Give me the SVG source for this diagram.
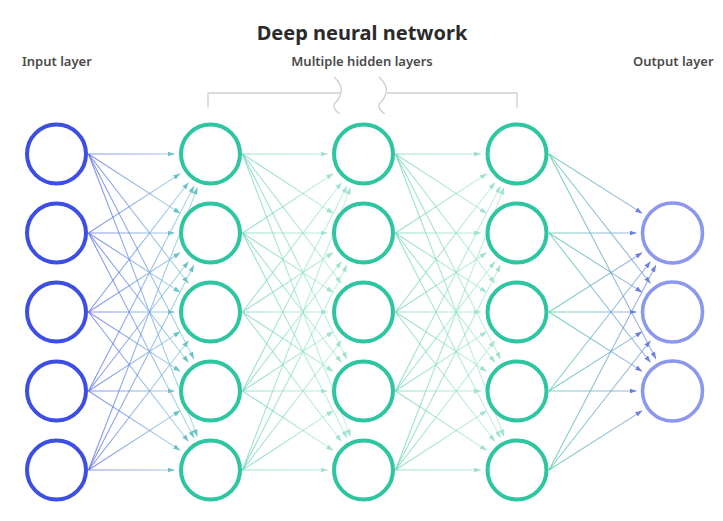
<svg xmlns="http://www.w3.org/2000/svg" width="723" height="521" viewBox="0 0 723 521">
<style>
.t{font-family:"Noto Sans","Open Sans","Liberation Sans",sans-serif;fill:#2b2b2b}
.title{font-size:20px;font-weight:700;text-anchor:middle}
.lab{font-size:13px;font-weight:600;fill:#4a4a4a}
.br{fill:none;stroke:#cfcfcf;stroke-width:1.3}
.n{fill:#fff;stroke-width:4}
.in{stroke:#3c4fe2}
.hid{stroke:#2ec6a0}
.out{stroke:#8a98ee;stroke-width:3.6}
.g1 path{stroke:url(#gr1);marker-end:url(#a1)}
.g2 path{stroke:url(#gr2);marker-end:url(#a2)}
.g3 path{stroke:url(#gr3);marker-end:url(#a2)}
.g4 path{stroke:url(#gr4);marker-end:url(#a4)}
.e path{fill:none;stroke-width:1.1;stroke-opacity:0.72}
</style>
<defs>
<linearGradient id="gr1" gradientUnits="userSpaceOnUse" x1="88" y1="0" x2="198" y2="0"><stop offset="0" stop-color="#5566e4"/><stop offset="1" stop-color="#8ad6d2"/></linearGradient>
<linearGradient id="gr2" gradientUnits="userSpaceOnUse" x1="242" y1="0" x2="351" y2="0"><stop offset="0" stop-color="#6cd3b9"/><stop offset="1" stop-color="#b2ebdd"/></linearGradient>
<linearGradient id="gr3" gradientUnits="userSpaceOnUse" x1="395" y1="0" x2="505" y2="0"><stop offset="0" stop-color="#6cd3b9"/><stop offset="1" stop-color="#b2ebdd"/></linearGradient>
<linearGradient id="gr4" gradientUnits="userSpaceOnUse" x1="549" y1="0" x2="660" y2="0"><stop offset="0" stop-color="#4cc6a8"/><stop offset="1" stop-color="#7888e4"/></linearGradient>
<marker id="a1" markerUnits="userSpaceOnUse" markerWidth="7" markerHeight="5" refX="7" refY="2.5" orient="auto"><path d="M0,0L7,2.5L0,5z" fill="#6cc2c8"/></marker>
<marker id="a2" markerUnits="userSpaceOnUse" markerWidth="7" markerHeight="5" refX="7" refY="2.5" orient="auto"><path d="M0,0L7,2.5L0,5z" fill="#9fe2d2"/></marker>
<marker id="a4" markerUnits="userSpaceOnUse" markerWidth="7" markerHeight="5" refX="7" refY="2.5" orient="auto"><path d="M0,0L7,2.5L0,5z" fill="#6e7ee2"/></marker>
</defs>
<rect width="723" height="521" fill="#fff"/>
<g id="labels">
<text class="t title" x="362" y="40">Deep neural network</text>
<text class="t lab" x="22" y="66">Input layer</text>
<text class="t lab" x="362" y="66" text-anchor="middle">Multiple hidden layers</text>
<text class="t lab" x="633" y="66">Output layer</text>
</g>
<g id="bracket">
<path class="br" d="M208 108V93H340"/>
<path class="br" d="M334 77Q343 85 341 93Q339 100 334 104Q333 110 340 114"/>
<path class="br" d="M379 77Q388 85 386 93Q384 100 379 104Q378 110 385 114"/>
<path class="br" d="M387 93H517V108"/>
</g>
<g id="connectors" class="e">
<g class="g1">
<path d="M88.5 154L174.5 154"/><path d="M88.5 154L180.3 213.4"/><path d="M88.5 154L188.5 283.5"/><path d="M88.5 154L194 359"/><path d="M88.5 154L197.5 436.4"/>
<path d="M88.5 233L180.3 173.6"/><path d="M88.5 233L174.5 233"/><path d="M88.5 233L180.3 292.4"/><path d="M88.5 233L188.5 362.5"/><path d="M88.5 233L194 438"/>
<path d="M88.5 312L188.5 182.5"/><path d="M88.5 312L180.3 252.6"/><path d="M88.5 312L174.5 312"/><path d="M88.5 312L180.3 371.4"/><path d="M88.5 312L188.5 441.5"/>
<path d="M88.5 391L194 186"/><path d="M88.5 391L188.5 261.5"/><path d="M88.5 391L180.3 331.6"/><path d="M88.5 391L174.5 391"/><path d="M88.5 391L180.3 450.4"/>
<path d="M88.5 470L197.5 187.6"/><path d="M88.5 470L194 265"/><path d="M88.5 470L188.5 340.5"/><path d="M88.5 470L180.3 410.6"/><path d="M88.5 470L174.5 470"/>
</g>
<g class="g2">
<path d="M242.5 154L327.5 154"/><path d="M242.5 154L333.3 213.4"/><path d="M242.5 154L341.5 283.5"/><path d="M242.5 154L347 359"/><path d="M242.5 154L350.5 436.4"/>
<path d="M242.5 233L333.3 173.6"/><path d="M242.5 233L327.5 233"/><path d="M242.5 233L333.3 292.4"/><path d="M242.5 233L341.5 362.5"/><path d="M242.5 233L347 438"/>
<path d="M242.5 312L341.5 182.5"/><path d="M242.5 312L333.3 252.6"/><path d="M242.5 312L327.5 312"/><path d="M242.5 312L333.3 371.4"/><path d="M242.5 312L341.5 441.5"/>
<path d="M242.5 391L347 186"/><path d="M242.5 391L341.5 261.5"/><path d="M242.5 391L333.3 331.6"/><path d="M242.5 391L327.5 391"/><path d="M242.5 391L333.3 450.4"/>
<path d="M242.5 470L350.5 187.6"/><path d="M242.5 470L347 265"/><path d="M242.5 470L341.5 340.5"/><path d="M242.5 470L333.3 410.6"/><path d="M242.5 470L327.5 470"/>
</g>
<g class="g3">
<path d="M395.5 154L481 154"/><path d="M395.5 154L486.8 213.4"/><path d="M395.5 154L495 283.5"/><path d="M395.5 154L500.5 359"/><path d="M395.5 154L504 436.4"/>
<path d="M395.5 233L486.8 173.6"/><path d="M395.5 233L481 233"/><path d="M395.5 233L486.8 292.4"/><path d="M395.5 233L495 362.5"/><path d="M395.5 233L500.5 438"/>
<path d="M395.5 312L495 182.5"/><path d="M395.5 312L486.8 252.6"/><path d="M395.5 312L481 312"/><path d="M395.5 312L486.8 371.4"/><path d="M395.5 312L495 441.5"/>
<path d="M395.5 391L500.5 186"/><path d="M395.5 391L495 261.5"/><path d="M395.5 391L486.8 331.6"/><path d="M395.5 391L481 391"/><path d="M395.5 391L486.8 450.4"/>
<path d="M395.5 470L504 187.6"/><path d="M395.5 470L500.5 265"/><path d="M395.5 470L495 340.5"/><path d="M395.5 470L486.8 410.6"/><path d="M395.5 470L481 470"/>
</g>
<g class="g4">
<path d="M549 154L642.3 213.4"/><path d="M549 154L650.5 283.5"/><path d="M549 154L656 359"/>
<path d="M549 233L636.5 233"/><path d="M549 233L642.3 292.4"/><path d="M549 233L650.5 362.5"/>
<path d="M549 312L642.3 252.6"/><path d="M549 312L636.5 312"/><path d="M549 312L642.3 371.4"/>
<path d="M549 391L650.5 261.5"/><path d="M549 391L642.3 331.6"/><path d="M549 391L636.5 391"/>
<path d="M549 470L656 265"/><path d="M549 470L650.5 340.5"/><path d="M549 470L642.3 410.6"/>
</g>
</g>
<g id="input-layer">
<circle id="in1" class="n in" cx="56.5" cy="154" r="29.5"/>
<circle id="in2" class="n in" cx="56.5" cy="233" r="29.5"/>
<circle id="in3" class="n in" cx="56.5" cy="312" r="29.5"/>
<circle id="in4" class="n in" cx="56.5" cy="391" r="29.5"/>
<circle id="in5" class="n in" cx="56.5" cy="470" r="29.5"/>
</g>
<g id="hidden-layer-1">
<circle id="h1a" class="n hid" cx="210.5" cy="154" r="29.5"/>
<circle id="h1b" class="n hid" cx="210.5" cy="233" r="29.5"/>
<circle id="h1c" class="n hid" cx="210.5" cy="312" r="29.5"/>
<circle id="h1d" class="n hid" cx="210.5" cy="391" r="29.5"/>
<circle id="h1e" class="n hid" cx="210.5" cy="470" r="29.5"/>
</g>
<g id="hidden-layer-2">
<circle id="h2a" class="n hid" cx="363.5" cy="154" r="29.5"/>
<circle id="h2b" class="n hid" cx="363.5" cy="233" r="29.5"/>
<circle id="h2c" class="n hid" cx="363.5" cy="312" r="29.5"/>
<circle id="h2d" class="n hid" cx="363.5" cy="391" r="29.5"/>
<circle id="h2e" class="n hid" cx="363.5" cy="470" r="29.5"/>
</g>
<g id="hidden-layer-3">
<circle id="h3a" class="n hid" cx="517" cy="154" r="29.5"/>
<circle id="h3b" class="n hid" cx="517" cy="233" r="29.5"/>
<circle id="h3c" class="n hid" cx="517" cy="312" r="29.5"/>
<circle id="h3d" class="n hid" cx="517" cy="391" r="29.5"/>
<circle id="h3e" class="n hid" cx="517" cy="470" r="29.5"/>
</g>
<g id="output-layer">
<circle id="o1" class="n out" cx="672.5" cy="233" r="30"/>
<circle id="o2" class="n out" cx="672.5" cy="312" r="30"/>
<circle id="o3" class="n out" cx="672.5" cy="391" r="30"/>
</g>
</svg>
